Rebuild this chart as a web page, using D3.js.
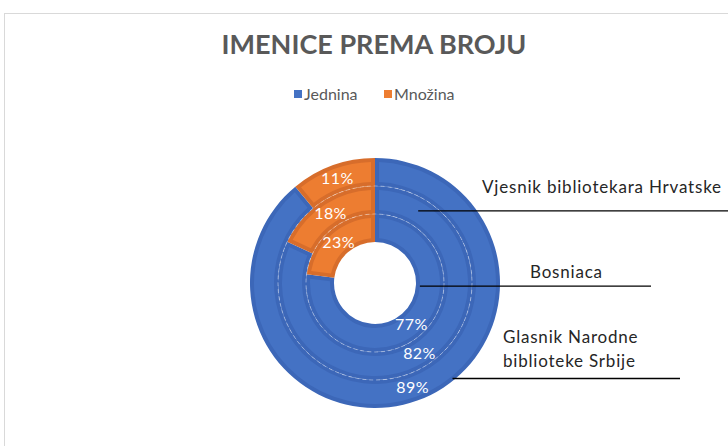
<!DOCTYPE html>
<html>
<head>
<meta charset="utf-8">
<script src="https://cdn.jsdelivr.net/npm/d3@7"></script>
<style>
  body { margin: 0; background: #fff; }
  text { font-family: Lato, "Open Sans", sans-serif; }
</style>
</head>
<body>
<div id="chart"></div>
<script>
// data: inner ring first (Excel series order)
var seriesNames = ["Bosniaca", "Vjesnik bibliotekara Hrvatske", "Glasnik Narodne biblioteke Srbije"];
var categories = ["Jednina", "Množina"];
var jednina = [77, 82, 89];
var mnozina = [23, 18, 11];

(function () {
    var width = 728,
        height = 446;

    var svg = d3.select("#chart")
        .append("svg")
        .attr("width", width)
        .attr("height", height);

    // chart area border
    svg.append("rect")
        .attr("x", 4.5).attr("y", 13.5)
        .attr("width", 740).attr("height", 460)
        .attr("fill", "#fff")
        .attr("stroke", "#d9d9d9");

    svg.append("text")
        .attr("x", 374).attr("y", 54)
        .attr("text-anchor", "middle")
        .attr("font-size", 27)
        .attr("font-weight", "bold")
        .attr("fill", "#595959")
        .text("IMENICE PREMA BROJU");

    var fill = d3.scaleOrdinal().domain(categories).range(["#4472c4", "#ed7d31"]);
    var edge = d3.scaleOrdinal().domain(categories).range(["#3c67b8", "#d76d2b"]);

    // legend
    var legendX = [294, 384];
    var legend = svg.selectAll(".legend")
        .data(categories)
        .enter().append("g")
        .attr("class", "legend")
        .attr("transform", function (d, i) { return "translate(" + legendX[i] + ",90)"; });
    legend.append("rect")
        .attr("width", 8).attr("height", 8)
        .attr("fill", function (d) { return fill(d); });
    legend.append("text")
        .attr("x", 10).attr("y", 9.5)
        .attr("font-size", 16)
        .attr("fill", "#595959")
        .text(function (d) { return d; });

    var cx = 375, cy = 283;
    var radius = d3.scaleLinear().domain([0, seriesNames.length]).range([41, 125]);

    var g = svg.append("g").attr("transform", "translate(" + cx + "," + cy + ")");

    var pie = d3.pie().sort(null).value(function (d) { return d.value; });

    var rings = seriesNames.map(function (name, i) {
        var slices = pie([
            { cat: categories[0], value: jednina[i] },
            { cat: categories[1], value: mnozina[i] }
        ]);
        slices.forEach(function (s) {
            s.r0 = radius(i);
            s.r1 = radius(i + 1);
            s.series = name;
        });
        return slices;
    });
    var slices = d3.merge(rings);

    var arcOuter = d3.arc()
        .innerRadius(function (d) { return d.r0; })
        .outerRadius(function (d) { return d.r1; });
    var arcInner = d3.arc()
        .innerRadius(function (d) { return d.r0 + 4; })
        .outerRadius(function (d) { return d.r1 - 4; })
        .padRadius(100)
        .padAngle(0.08);

    g.selectAll(".slice")
        .data(slices)
        .enter().append("path")
        .attr("class", "slice")
        .attr("d", arcOuter)
        .attr("fill", function (d) { return edge(d.data.cat); });

    g.selectAll(".slice-in")
        .data(slices)
        .enter().append("path")
        .attr("class", "slice-in")
        .attr("d", arcInner)
        .attr("fill", function (d) { return fill(d.data.cat); });

    // faint dashed ring separators
    g.selectAll(".sep")
        .data([1, 2])
        .enter().append("circle")
        .attr("class", "sep")
        .attr("r", function (d) { return radius(d); })
        .attr("fill", "none")
        .attr("stroke", "rgba(255,255,255,0.4)")
        .attr("stroke-width", 1)
        .attr("stroke-dasharray", "4,3");

    // value labels
    g.selectAll(".pct")
        .data(slices)
        .enter().append("text")
        .attr("class", "pct")
        .attr("transform", function (d) {
            return "translate(" + d3.arc().innerRadius(d.r0).outerRadius(d.r1).centroid(d) + ")";
        })
        .attr("dy", "0.36em")
        .attr("text-anchor", "middle")
        .attr("font-size", 16)
        .attr("letter-spacing", 0.4)
        .attr("fill", "#fff")
        .text(function (d) { return d.data.value + "%"; });

    // series name labels with leader lines
    var leaders = [
        { angle: 1.64, r: 45, x2: 276, tx: 155, ty: -5, lines: ["Bosniaca"] },
        { angle: 0.54, r: 84, x2: 360, tx: 107, ty: -90, lines: ["Vjesnik bibliotekara Hrvatske"] },
        { angle: 2.46, r: 123, x2: 305, tx: 128, ty: 60, lines: ["Glasnik Narodne", "biblioteke Srbije"] }
    ];
    leaders.forEach(function (l) {
        var x1 = l.r * Math.sin(l.angle),
            y1 = -l.r * Math.cos(l.angle);
        g.append("line")
            .attr("x1", x1).attr("y1", y1)
            .attr("x2", l.x2).attr("y2", y1)
            .attr("stroke", "#000")
            .attr("stroke-width", 1.3);
        var t = g.append("text")
            .attr("x", l.tx).attr("y", l.ty)
            .attr("font-size", 17)
            .attr("letter-spacing", 0.8)
            .attr("fill", "#262626");
        l.lines.forEach(function (s, k) {
            t.append("tspan").attr("x", l.tx).attr("dy", k ? 24 : 0).text(s);
        });
    });
})();
</script>
</body>
</html>
